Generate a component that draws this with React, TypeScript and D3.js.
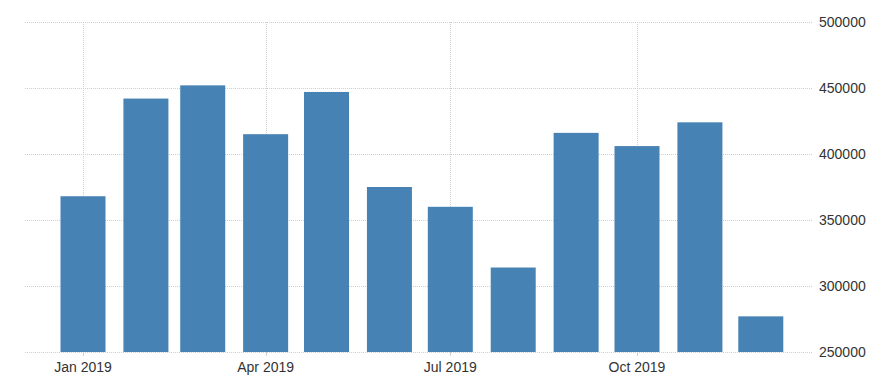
import React, { useEffect, useRef } from 'react';
import * as d3 from 'd3';

const months = ['2019-01', '2019-02', '2019-03', '2019-04', '2019-05', '2019-06', '2019-07', '2019-08', '2019-09', '2019-10', '2019-11', '2019-12'];
const values = [368000, 442000, 452000, 415000, 447000, 375000, 360000, 314000, 416000, 406000, 424000, 277000];
const yTicks = [250000, 300000, 350000, 400000, 450000, 500000];

const W = 882;
const H = 390;

const App = () => {
  const svgRef = useRef<SVGSVGElement>(null);

  useEffect(() => {
    document.body.style.margin = '0';
    const svg = d3.select(svgRef.current);
    svg.selectAll('*').remove();

    const parse = d3.timeParse('%Y-%m');
    const dates = months.map(m => parse(m) as Date);

    const x = d3.scaleTime()
      .domain([new Date(2019, 0, 1), new Date(2019, 9, 1)])
      .range([83, 637]);

    const y = d3.scaleLinear()
      .domain([250000, 500000])
      .range([352, 22]);

    const left = 25;
    const right = 812;
    const barW = 45;
    const font = '"Liberation Sans", Arial, sans-serif';

    const xTicks = x.ticks(d3.timeMonth.every(3) as d3.TimeInterval).filter(d => d <= new Date(2019, 11, 31));

    // horizontal grid
    svg.append('g')
      .selectAll('line')
      .data(yTicks)
      .join('line')
      .attr('x1', left)
      .attr('x2', right)
      .attr('y1', d => Math.round(y(d)) + 0.5)
      .attr('y2', d => Math.round(y(d)) + 0.5)
      .attr('stroke', '#cfcfcf')
      .attr('stroke-dasharray', '1,1');

    // vertical grid
    svg.append('g')
      .selectAll('line')
      .data(xTicks)
      .join('line')
      .attr('x1', d => Math.round(x(d)) + 0.5)
      .attr('x2', d => Math.round(x(d)) + 0.5)
      .attr('y1', y(500000))
      .attr('y2', y(250000))
      .attr('stroke', '#cfcfcf')
      .attr('stroke-dasharray', '1,1');

    // bars
    svg.append('g')
      .selectAll('rect')
      .data(values)
      .join('rect')
      .attr('x', (d, i) => x(dates[i]) - barW / 2)
      .attr('width', barW)
      .attr('y', d => y(d))
      .attr('height', d => y(250000) - y(d))
      .attr('fill', '#4682b4');

    // x tick marks
    svg.append('g')
      .selectAll('line')
      .data(xTicks)
      .join('line')
      .attr('x1', d => Math.round(x(d)) + 0.5)
      .attr('x2', d => Math.round(x(d)) + 0.5)
      .attr('y1', y(250000))
      .attr('y2', y(250000) + 4)
      .attr('stroke', '#cfcfcf');

    // x labels
    svg.append('g')
      .selectAll('text')
      .data(xTicks)
      .join('text')
      .attr('x', d => x(d))
      .attr('y', 372)
      .attr('text-anchor', 'middle')
      .attr('font-family', font)
      .attr('font-size', 14)
      .attr('fill', '#333')
      .text(d => d3.timeFormat('%b %Y')(d));

    // y labels
    svg.append('g')
      .selectAll('text')
      .data(yTicks)
      .join('text')
      .attr('x', 819)
      .attr('y', d => y(d))
      .attr('dy', '0.35em')
      .attr('font-family', font)
      .attr('font-size', 14)
      .attr('fill', '#333')
      .text(d => String(d));
  }, []);

  return <svg ref={svgRef} width={W} height={H} style={{ display: 'block', background: '#fff' }} />;
};

export default App;
